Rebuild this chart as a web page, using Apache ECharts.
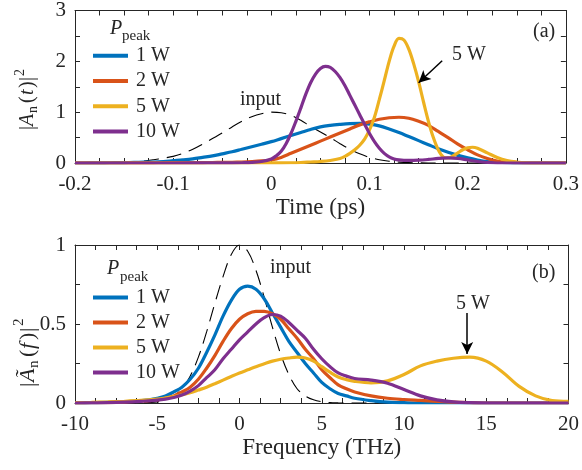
<!DOCTYPE html>
<html><head><meta charset="utf-8">
<script src="https://cdn.jsdelivr.net/npm/echarts@6/dist/echarts.min.js"></script>
<style>html,body{margin:0;padding:0;background:#fff}#c{width:582px;height:470px}</style>
</head><body><div id="c"></div>
<script>
// ---------- Panel (a): time domain ----------
const tA = [-0.20,-0.19,-0.18,-0.17,-0.16,-0.15,-0.14,-0.13,-0.12,-0.11,-0.10,-0.09,-0.08,-0.07,-0.06,-0.05,-0.04,-0.03,-0.02,-0.01,0,0.01,0.02,0.03,0.04,0.05,0.06,0.07,0.08,0.09,0.10,0.11,0.12,0.13,0.14,0.15,0.16,0.17,0.18,0.19,0.20,0.21,0.22,0.23,0.24,0.25,0.26,0.27,0.28,0.29,0.30];
const inputT = [0,0,0,0.005,0.01,0.015,0.025,0.04,0.065,0.095,0.13,0.19,0.27,0.37,0.48,0.59,0.71,0.82,0.91,0.97,1.0,0.99,0.94,0.84,0.72,0.61,0.50,0.38,0.27,0.18,0.11,0.065,0.035,0.018,0.008,0.003,0,0,0,0,0,0,0,0,0,0,0,0,0,0,0];
const w1T = [0,0,0.002,0.004,0.006,0.008,0.012,0.016,0.02,0.03,0.045,0.06,0.08,0.11,0.14,0.18,0.22,0.27,0.32,0.37,0.42,0.48,0.54,0.60,0.66,0.71,0.74,0.76,0.775,0.78,0.765,0.73,0.67,0.60,0.52,0.44,0.36,0.28,0.21,0.15,0.10,0.06,0.03,0.015,0.005,0,0,0,0,0,0];
const w2T = [0,0,0,0,0,0,0.002,0.003,0.004,0.005,0.006,0.007,0.008,0.009,0.01,0.012,0.015,0.02,0.028,0.04,0.06,0.11,0.19,0.27,0.35,0.43,0.51,0.59,0.67,0.75,0.81,0.86,0.89,0.9,0.88,0.82,0.74,0.62,0.5,0.37,0.26,0.16,0.09,0.04,0.015,0.005,0,0,0,0,0];
const t5 = [-0.2,-0.1,-0.05,0,0.02,0.03,0.04,0.05,0.06,0.07,0.075,0.08,0.085,0.09,0.095,0.1,0.105,0.11,0.115,0.12,0.125,0.13,0.135,0.14,0.145,0.15,0.155,0.16,0.165,0.17,0.175,0.18,0.185,0.19,0.195,0.2,0.205,0.21,0.22,0.23,0.24,0.25,0.26,0.27,0.3];
const w5T = [0,0,0,0.003,0.005,0.01,0.02,0.03,0.05,0.09,0.13,0.19,0.26,0.35,0.47,0.65,0.9,1.25,1.62,2.0,2.3,2.45,2.42,2.24,1.95,1.6,1.2,0.82,0.5,0.26,0.12,0.1,0.14,0.2,0.26,0.3,0.31,0.29,0.2,0.11,0.05,0.02,0.005,0,0];
const t10 = [-0.2,-0.15,-0.1,-0.05,-0.03,-0.02,-0.01,0,0.005,0.01,0.015,0.02,0.025,0.03,0.035,0.04,0.045,0.05,0.055,0.06,0.065,0.07,0.075,0.08,0.085,0.09,0.095,0.1,0.105,0.11,0.115,0.12,0.125,0.13,0.14,0.15,0.16,0.17,0.18,0.19,0.2,0.21,0.22,0.23,0.25,0.3];
const w10T = [0,0,0,0.002,0.005,0.01,0.03,0.08,0.14,0.23,0.38,0.58,0.82,1.08,1.35,1.58,1.75,1.86,1.9,1.88,1.8,1.68,1.52,1.33,1.14,0.95,0.76,0.58,0.42,0.29,0.19,0.12,0.08,0.06,0.05,0.055,0.07,0.09,0.1,0.09,0.06,0.03,0.01,0,0,0];

// ---------- Panel (b): frequency domain ----------
const fA = [-10,-9,-8,-7,-6,-5.5,-5,-4.5,-4,-3.5,-3,-2.5,-2,-1.5,-1,-0.5,0,0.5,1,1.5,2,2.5,3,3.5,4,4.5,5,5.5,6,6.5,7,8,9,10,11,12,13,14,15,16,17,18,19,20];
const inputF = [0,0,0,0,0.001,0.003,0.007,0.02,0.045,0.09,0.17,0.29,0.45,0.63,0.8,0.94,1.0,0.96,0.84,0.67,0.48,0.31,0.18,0.09,0.045,0.02,0.008,0.003,0.001,0,0,0,0,0,0,0,0,0,0,0,0,0,0,0];
const w1F = [0,0.002,0.004,0.008,0.015,0.02,0.03,0.045,0.07,0.1,0.15,0.22,0.32,0.43,0.55,0.65,0.72,0.74,0.72,0.66,0.57,0.48,0.39,0.32,0.25,0.19,0.13,0.09,0.06,0.045,0.03,0.015,0.005,0.002,0,0,0,0,0,0,0,0,0,0];
const w2F = [0,0.002,0.003,0.006,0.012,0.015,0.02,0.03,0.045,0.07,0.1,0.15,0.22,0.3,0.39,0.47,0.53,0.565,0.58,0.58,0.565,0.53,0.47,0.41,0.34,0.28,0.21,0.16,0.115,0.09,0.07,0.045,0.03,0.022,0.016,0.01,0.005,0.002,0,0,0,0,0,0];
const w5F = [0.002,0.004,0.007,0.011,0.016,0.02,0.025,0.032,0.04,0.052,0.065,0.082,0.1,0.122,0.145,0.168,0.19,0.21,0.23,0.248,0.265,0.277,0.285,0.29,0.285,0.265,0.23,0.195,0.165,0.148,0.137,0.128,0.14,0.18,0.235,0.265,0.283,0.29,0.265,0.195,0.105,0.045,0.015,0.01];
const w10F = [0,0.001,0.002,0.005,0.01,0.014,0.018,0.025,0.035,0.05,0.075,0.11,0.16,0.21,0.28,0.34,0.4,0.45,0.5,0.54,0.56,0.55,0.51,0.46,0.41,0.34,0.28,0.23,0.19,0.17,0.155,0.145,0.125,0.085,0.045,0.02,0.007,0.002,0,0,0,0,0,0];

const seriesNames = ['1 W','2 W','5 W','10 W'];
const colors = ['#0072BD','#D95319','#EDB120','#7E2F8E'];

const FONT = 'Liberation Serif';
const TXT = '#262626';
const zip = (xs, ys) => xs.map((x, i) => [x, ys[i]]);

function mkLine(name, xi, yi, xs, ys, color, extra) {
  return Object.assign({
    name, type: 'line', xAxisIndex: xi, yAxisIndex: yi, data: zip(xs, ys),
    showSymbol: false, symbol: 'none', smooth: 0.35, silent: true,
    lineStyle: { color, width: 3.2 }, itemStyle: { color }, z: 3
  }, extra || {});
}
const dashed = { color: '#000', width: 1.1, type: [15, 8] };

function axisX(gi, min, max, interval, name, show, pos) {
  return {
    type: 'value', gridIndex: gi, min, max, interval, position: pos,
    name: show ? name : '', nameLocation: 'middle', nameGap: 33,
    nameTextStyle: { fontFamily: FONT, fontSize: 23, color: TXT },
    axisLine: { onZero: false, lineStyle: { color: TXT, width: 1 } },
    axisTick: { show: true, inside: true, length: 5, lineStyle: { color: TXT } },
    minorTick: { show: true, splitNumber: 4, length: 5, lineStyle: { color: TXT } },
    axisLabel: { show: show, fontFamily: FONT, fontSize: 21, color: TXT, margin: 11 },
    splitLine: { show: false }
  };
}
function axisY(gi, min, max, interval, split, show, pos) {
  return {
    type: 'value', gridIndex: gi, min, max, interval, position: pos,
    axisLine: { show: true, onZero: false, lineStyle: { color: TXT, width: 1 } },
    axisTick: { show: true, inside: true, length: 5, lineStyle: { color: TXT } },
    minorTick: { show: true, splitNumber: split, length: 5, lineStyle: { color: TXT } },
    axisLabel: { show: show, fontFamily: FONT, fontSize: 21, color: TXT, margin: 9 },
    splitLine: { show: false }
  };
}

function txt(x, y, text, size, italic, extra) {
  return Object.assign({ type: 'text', x, y, silent: true,
    style: { text, fontFamily: FONT, fontSize: size, fontStyle: italic ? 'italic' : 'normal',
      fill: TXT, align: 'left', verticalAlign: 'middle', textAlign: 'left', textVerticalAlign: 'middle' } }, extra || {});
}

const chart = echarts.init(document.getElementById('c'), null, { renderer: 'canvas' });
const option = {
  backgroundColor: '#fff',
  animation: false,
  grid: [
    { left: 75, right: 10, top: 5, height: 158 },
    { left: 75, right: 10, top: 245, height: 158 }
  ],
  xAxis: [
    axisX(0, -0.2, 0.3, 0.1, 'Time (ps)', true, 'bottom'),
    axisX(1, -10, 20, 5, 'Frequency (THz)', true, 'bottom'),
    axisX(0, -0.2, 0.3, 0.1, '', false, 'top'),
    axisX(1, -10, 20, 5, '', false, 'top')
  ],
  yAxis: [
    axisY(0, 0, 3, 1, 2, true, 'left'),
    axisY(1, 0, 1, 0.5, 2, true, 'left'),
    axisY(0, 0, 3, 1, 2, false, 'right'),
    axisY(1, 0, 1, 0.5, 2, false, 'right')
  ],
  legend: [
    { data: seriesNames, orient: 'vertical', left: 93, top: 43, itemWidth: 35, itemHeight: 4, icon: 'rect',
      itemGap: 0, selectedMode: false, padding: 0,
      textStyle: { fontFamily: FONT, fontSize: 20, color: TXT, lineHeight: 25.3, padding: [0, 0, 0, 3] } },
    { data: seriesNames, orient: 'vertical', left: 93, top: 285, itemWidth: 35, itemHeight: 4, icon: 'rect',
      itemGap: 0, selectedMode: false, padding: 0,
      textStyle: { fontFamily: FONT, fontSize: 20, color: TXT, lineHeight: 25, padding: [0, 0, 0, 3] } }
  ],
  series: [
    mkLine('input', 0, 0, tA, inputT, '#000', { lineStyle: dashed, z: 2 }),
    mkLine('1 W', 0, 0, tA, w1T, colors[0]),
    mkLine('2 W', 0, 0, tA, w2T, colors[1]),
    mkLine('5 W', 0, 0, t5, w5T, colors[2], {
      markLine: { silent: true, symbol: ['none', 'arrow'], symbolSize: [9, 12], label: { show: false },
        lineStyle: { color: '#000', width: 1.5, type: 'solid' },
        data: [[{ coord: [0.174, 2.01] }, { coord: [0.150, 1.58] }]] } }),
    mkLine('10 W', 0, 0, t10, w10T, colors[3]),
    mkLine('input', 1, 1, fA, inputF, '#000', { lineStyle: dashed, z: 2 }),
    mkLine('1 W', 1, 1, fA, w1F, colors[0]),
    mkLine('2 W', 1, 1, fA, w2F, colors[1]),
    mkLine('5 W', 1, 1, fA, w5F, colors[2], {
      markLine: { silent: true, symbol: ['none', 'arrow'], symbolSize: [9, 12], label: { show: false },
        lineStyle: { color: '#000', width: 1.5, type: 'solid' },
        data: [[{ coord: [13.84, 0.57] }, { coord: [13.84, 0.31] }]] } }),
    mkLine('10 W', 1, 1, fA, w10F, colors[3])
  ],
  graphic: [
    // y-axis title (a)
    { type: 'group', x: 28, y: 130, rotation: Math.PI / 2, children: [
      txt(0, 0, '|', 20, false), txt(4, 0, 'A', 20, true), txt(17, 5, 'n', 14, false),
      txt(27, 0, '(', 20, false), txt(35, 0, 't', 20, true), txt(42, 0, ')', 20, false),
      txt(49, 0, '|', 20, false), txt(54, -8, '2', 14, false)
    ] },
    // y-axis title (b)
    { type: 'group', x: 28, y: 387, rotation: Math.PI / 2, children: [
      txt(0, 0, '|', 22, false), txt(5, 0, 'Ã', 22, true), txt(19, 6, 'n', 15, false),
      txt(30, 0, '(', 22, false), txt(38, 0, 'f', 22, true), txt(47, 0, ')', 22, false),
      txt(55, 0, '|', 22, false), txt(61, -9, '2', 15, false)
    ] },
    // legend titles
    txt(110, 29, 'P', 20, true), txt(122, 36, 'peak', 15, false),
    txt(107, 269, 'P', 20, true), txt(120, 277, 'peak', 15, false),
    // annotations
    txt(240, 100, 'input', 20, false),
    txt(452, 55, '5 W', 20, false),
    txt(533, 32, '(a)', 20, false),
    txt(270, 268, 'input', 20, false),
    txt(532, 273, '(b)', 20, false),
    txt(456, 304, '5 W', 20, false)
  ]
};
chart.setOption(option);
</script></body></html>
